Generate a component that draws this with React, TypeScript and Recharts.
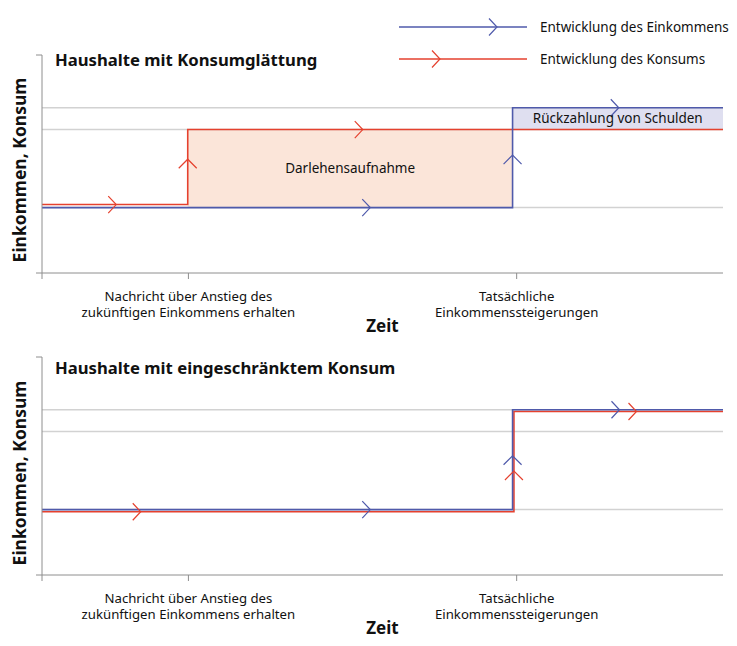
import React from 'react';
import {
  ComposedChart,
  Line,
  XAxis,
  YAxis,
  ReferenceLine,
  ReferenceArea,
  Scatter,
  Label,
} from 'recharts';

// ---- data ----
const xTicks = [0, 21.5, 69.7];
const xTickLabels: string[][] = [
  [],
  ['Nachricht über Anstieg des', 'zukünftigen Einkommens erhalten'],
  ['Tatsächliche', 'Einkommenssteigerungen'],
];
const yTicks = [0, 100];
const gridLevels = [30, 65.8, 75.8];

const topIncome = [
  { x: 0, y: 30 },
  { x: 69.1, y: 75.8 },
  { x: 100, y: 75.8 },
];
const topConsumption = [
  { x: 0, y: 31.4 },
  { x: 21.4, y: 65.8 },
  { x: 100, y: 65.8 },
];
const bottomIncome = [
  { x: 0, y: 30 },
  { x: 69.1, y: 75.8 },
  { x: 100, y: 75.8 },
];
const bottomConsumption = [
  { x: 0, y: 29 },
  { x: 69.3, y: 75 },
  { x: 100, y: 75 },
];

const topIncomeArrows = [
  { x: 48.2, y: 30, dir: 'right' },
  { x: 69.1, y: 54.1, dir: 'up' },
  { x: 84.7, y: 75.8, dir: 'right' },
];
const topConsumptionArrows = [
  { x: 10.9, y: 31.4, dir: 'right' },
  { x: 21.4, y: 52.2, dir: 'up' },
  { x: 47.1, y: 65.8, dir: 'right' },
];
const bottomIncomeArrows = [
  { x: 48.2, y: 30, dir: 'right' },
  { x: 69.1, y: 54.7, dir: 'up' },
  { x: 84.8, y: 75.8, dir: 'right' },
];
const bottomConsumptionArrows = [
  { x: 14.5, y: 29, dir: 'right' },
  { x: 69.3, y: 47.7, dir: 'up' },
  { x: 87.3, y: 75, dir: 'right' },
];

const borrowingArea = { x1: 21.4, x2: 69.1, y1: 30, y2: 65.8, label: 'Darlehensaufnahme' };
const repaymentArea = { x1: 69.1, x2: 100, y1: 65.8, y2: 75.8, label: 'Rückzahlung von Schulden' };

const titles = ['Haushalte mit Konsumglättung', 'Haushalte mit eingeschränktem Konsum'];
const yLabel = 'Einkommen, Konsum';
const xLabel = 'Zeit';
const legendItems = ['Entwicklung des Einkommens', 'Entwicklung des Konsums'];

// ---- styles ----
const FONT = '"Noto Sans", sans-serif';
const BLUE = '#4f5aab';
const RED = '#e5412e';
const AXIS = '#8e8e8e';
const GRID = '#d2d2d2';
const PEACH = '#fbe5d9';
const LAVENDER = '#dfdff0';

const W = 737;
const H = 323;

function chevronPath(cx: number, cy: number, dir: string) {
  if (dir === 'up') {
    return `M${cx - 9},${cy + 9}L${cx},${cy}L${cx + 9},${cy + 9}`;
  }
  return `M${cx - 8},${cy - 8.5}L${cx},${cy}L${cx - 8},${cy + 8.5}`;
}

const makeShape = (color: string) => (props: any) => {
  const { cx, cy, payload } = props;
  if (cx == null || cy == null) return <g />;
  return <path d={chevronPath(cx, cy, payload.dir)} fill="none" stroke={color} strokeWidth={1.2} />;
};

const XTick = (props: any) => {
  const { x, y, payload, index } = props;
  const idx = xTicks.indexOf(payload.value);
  const lines = xTickLabels[idx >= 0 ? idx : index] || [];
  return (
    <g>
      {lines.map((l, i) => (
        <text
          key={i}
          x={x}
          y={y + 19.5 + i * 16.5}
          textAnchor="middle"
          fontFamily={FONT}
          fontSize={13.2}
          fill="#111"
        >
          {l}
        </text>
      ))}
    </g>
  );
};

const EmptyTick = () => <g />;

type PanelProps = {
  income: { x: number; y: number }[];
  consumption: { x: number; y: number }[];
  incomeArrows: { x: number; y: number; dir: string }[];
  consumptionArrows: { x: number; y: number; dir: string }[];
  marginTop: number;
  areas: boolean;
};

function Panel({ income, consumption, incomeArrows, consumptionArrows, marginTop, areas }: PanelProps) {
  const plotH = 218;
  const xAxisH = 40;
  const marginBottom = H - marginTop - plotH - xAxisH;
  return (
    <ComposedChart
      width={W}
      height={H}
      margin={{ top: marginTop, right: 14, bottom: marginBottom, left: 36 }}
    >
      <XAxis
        dataKey="x"
        type="number"
        domain={[0, 100]}
        ticks={xTicks}
        interval={0}
        height={xAxisH}
        tick={<XTick />}
        tickSize={6}
        stroke={AXIS}
        allowDataOverflow
      />
      <YAxis
        type="number"
        domain={[0, 100]}
        ticks={yTicks}
        width={6}
        tick={<EmptyTick />}
        tickSize={6}
        stroke={AXIS}
        allowDataOverflow
      />
      {gridLevels.map((g) => (
        <ReferenceLine key={g} y={g} stroke={GRID} strokeWidth={1.5} />
      ))}
      {areas && (
        <ReferenceArea
          x1={borrowingArea.x1}
          x2={borrowingArea.x2}
          y1={borrowingArea.y1}
          y2={borrowingArea.y2}
          fill={PEACH}
          fillOpacity={1}
          stroke="none"
        >
          <Label value={borrowingArea.label} position="center" fontFamily={FONT} fontSize={13.5} fill="#111" />
        </ReferenceArea>
      )}
      {areas && (
        <ReferenceArea
          x1={repaymentArea.x1}
          x2={repaymentArea.x2}
          y1={repaymentArea.y1}
          y2={repaymentArea.y2}
          fill={LAVENDER}
          fillOpacity={1}
          stroke="none"
        >
          <Label value={repaymentArea.label} position="center" fontFamily={FONT} fontSize={13.5} fill="#111" />
        </ReferenceArea>
      )}
      <Line
        data={consumption}
        dataKey="y"
        type="stepAfter"
        stroke={RED}
        strokeWidth={1.6}
        dot={false}
        isAnimationActive={false}
      />
      <Line
        data={income}
        dataKey="y"
        type="stepAfter"
        stroke={BLUE}
        strokeWidth={1.6}
        dot={false}
        isAnimationActive={false}
      />
      <Scatter data={incomeArrows} dataKey="y" shape={makeShape(BLUE)} isAnimationActive={false} />
      <Scatter data={consumptionArrows} dataKey="y" shape={makeShape(RED)} isAnimationActive={false} />
    </ComposedChart>
  );
}

export default function App() {
  return (
    <div style={{ position: 'absolute', left: 0, top: 0, width: W, height: 646, background: '#fff' }}>
      <div style={{ position: 'absolute', left: 0, top: 0 }}>
        <Panel
          income={topIncome}
          consumption={topConsumption}
          incomeArrows={topIncomeArrows}
          consumptionArrows={topConsumptionArrows}
          marginTop={55}
          areas
        />
      </div>
      <div style={{ position: 'absolute', left: 0, top: 323 }}>
        <Panel
          income={bottomIncome}
          consumption={bottomConsumption}
          incomeArrows={bottomIncomeArrows}
          consumptionArrows={bottomConsumptionArrows}
          marginTop={34}
          areas={false}
        />
      </div>
      <svg
        width={W}
        height={646}
        style={{ position: 'absolute', left: 0, top: 0, pointerEvents: 'none' }}
      >
        {/* legend */}
        <line x1={399} y1={27} x2={527} y2={27} stroke={BLUE} strokeWidth={1.3} />
        <path d={chevronPath(497, 27, 'right')} fill="none" stroke={BLUE} strokeWidth={1.2} />
        <line x1={399} y1={59} x2={527} y2={59} stroke={RED} strokeWidth={1.3} />
        <path d={chevronPath(440, 59, 'right')} fill="none" stroke={RED} strokeWidth={1.2} />
        <text x={540} y={31.5} fontFamily={FONT} fontSize={13.5} fill="#111">
          {legendItems[0]}
        </text>
        <text x={540} y={63.5} fontFamily={FONT} fontSize={13.5} fill="#111">
          {legendItems[1]}
        </text>
        {/* titles */}
        <text x={55} y={66} fontFamily={FONT} fontSize={16.7} fontWeight="bold" fill="#111">
          {titles[0]}
        </text>
        <text x={55} y={374} fontFamily={FONT} fontSize={16.7} fontWeight="bold" fill="#111">
          {titles[1]}
        </text>
        {/* y labels */}
        <text
          x={26}
          y={170}
          transform="rotate(-90 26 170)"
          textAnchor="middle"
          fontFamily={FONT}
          fontSize={17.5}
          fontWeight="bold"
          fill="#111"
        >
          {yLabel}
        </text>
        <text
          x={26}
          y={473}
          transform="rotate(-90 26 473)"
          textAnchor="middle"
          fontFamily={FONT}
          fontSize={17.5}
          fontWeight="bold"
          fill="#111"
        >
          {yLabel}
        </text>
        {/* x labels */}
        <text x={382.5} y={332} textAnchor="middle" fontFamily={FONT} fontSize={17} fontWeight="bold" fill="#111">
          {xLabel}
        </text>
        <text x={382.5} y={634} textAnchor="middle" fontFamily={FONT} fontSize={17} fontWeight="bold" fill="#111">
          {xLabel}
        </text>
      </svg>
    </div>
  );
}
